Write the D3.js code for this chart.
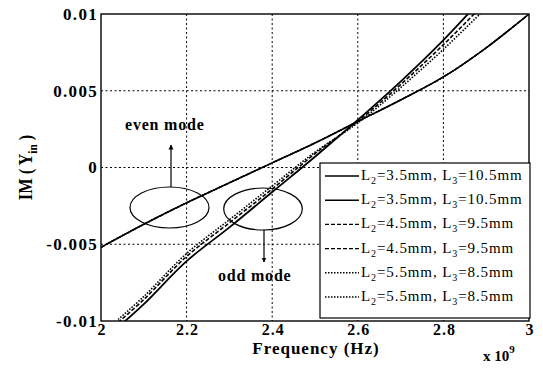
<!DOCTYPE html>
<html>
<head>
<meta charset="utf-8">
<script src="https://cdn.jsdelivr.net/npm/d3@7"></script>
<style>
  html, body { margin: 0; padding: 0; background: #fff; }
  svg { display: block; }
  text { font-family: "Liberation Serif", "Times New Roman", serif; fill: #000; }
</style>
</head>
<body>
<svg id="chart" width="543" height="368"></svg>
<script>
// Frequency samples (GHz) and imaginary input admittance for each case
const freqEven = [2.0, 2.1, 2.2, 2.3, 2.4, 2.5, 2.6, 2.7, 2.8, 2.9, 3.0];
const even35 = [-0.0052, -0.0037, -0.0023, -0.0010, 0.0003, 0.0016, 0.0030, 0.0044, 0.0059, 0.0078, 0.0100];
const even45 = [-0.0052, -0.0037, -0.0023, -0.0010, 0.0003, 0.0016, 0.0030, 0.0044, 0.0059, 0.0078, 0.0100];
const even55 = [-0.0052, -0.0037, -0.0023, -0.0010, 0.0003, 0.0016, 0.0030, 0.0044, 0.0059, 0.0078, 0.0100];

const freqOdd = [2.04, 2.1, 2.2, 2.3, 2.4, 2.5, 2.6, 2.7, 2.8, 2.9];
const odd35 = [-0.0104, -0.0089, -0.0061, -0.0039, -0.0016, 0.0007, 0.0031, 0.0056, 0.0083, 0.0113];
const odd45 = [-0.0101, -0.0086, -0.0058, -0.0036, -0.0014, 0.0009, 0.0030, 0.0054, 0.0080, 0.0108];
const odd55 = [-0.0099, -0.0084, -0.0056, -0.0034, -0.0012, 0.0010, 0.0029, 0.0052, 0.0077, 0.0104];

const xTicks = [2, 2.2, 2.4, 2.6, 2.8, 3];
const xTickLabels = ["2", "2.2", "2.4", "2.6", "2.8", "3"];
const yTicks = [-0.01, -0.005, 0, 0.005, 0.01];
const yTickLabels = ["-0.01", "-0.005", "0", "0.005", "0.01"];

const legendL2 = ["3.5", "3.5", "4.5", "4.5", "5.5", "5.5"];
const legendL3 = ["10.5", "10.5", "9.5", "9.5", "8.5", "8.5"];
const legendDash = ["none", "none", "4,2", "4,2", "1.5,1.5", "1.5,1.5"];
const legendWidth = [1.6, 1.6, 1.4, 1.4, 1.4, 1.4];

const svg = d3.select("#chart");
const plotLeft = 101, plotRight = 529, plotTop = 14, plotBottom = 321;

const x = d3.scaleLinear().domain([2, 3]).range([plotLeft, plotRight]);
const y = d3.scaleLinear().domain([-0.01, 0.01]).range([plotBottom, plotTop]);

// dotted grid
const grid = svg.append("g").attr("stroke", "#000").attr("stroke-width", 1)
  .attr("stroke-dasharray", "2,2.5");
grid.selectAll("line.gx").data(xTicks.slice(1, -1)).join("line").attr("class", "gx")
  .attr("x1", d => x(d)).attr("x2", d => x(d)).attr("y1", plotTop).attr("y2", plotBottom);
grid.selectAll("line.gy").data(yTicks.slice(1, -1)).join("line").attr("class", "gy")
  .attr("y1", d => y(d)).attr("y2", d => y(d)).attr("x1", plotLeft).attr("x2", plotRight);

svg.append("clipPath").attr("id", "plotClip").append("rect")
  .attr("x", plotLeft).attr("y", plotTop)
  .attr("width", plotRight - plotLeft).attr("height", plotBottom - plotTop);

const line = d3.line().x(d => x(d[0])).y(d => y(d[1])).curve(d3.curveCatmullRom);
const curves = [
  { f: freqEven, v: even55, dash: "1.5,1.5", w: 1.4 },
  { f: freqEven, v: even45, dash: "4,2", w: 1.4 },
  { f: freqEven, v: even35, dash: "none", w: 1.6 },
  { f: freqOdd, v: odd55, dash: "1.5,1.5", w: 1.6 },
  { f: freqOdd, v: odd45, dash: "4,2", w: 1.6 },
  { f: freqOdd, v: odd35, dash: "none", w: 1.8 }
];
svg.append("g").attr("clip-path", "url(#plotClip)")
  .selectAll("path").data(curves).join("path")
  .attr("d", c => line(c.f.map((f, i) => [f, c.v[i]])))
  .attr("fill", "none").attr("stroke", "#000")
  .attr("stroke-width", c => c.w)
  .attr("stroke-dasharray", c => c.dash);

// axes frame
svg.append("rect").attr("x", plotLeft).attr("y", plotTop)
  .attr("width", plotRight - plotLeft).attr("height", plotBottom - plotTop)
  .attr("fill", "none").attr("stroke", "#000").attr("stroke-width", 1.4);

const xAxis = d3.axisBottom(x).tickValues(xTicks).tickSize(0).tickPadding(3)
  .tickFormat((d, i) => xTickLabels[i]);
const gx = svg.append("g").attr("transform", `translate(0,${plotBottom})`).call(xAxis);
gx.select(".domain").remove();
gx.selectAll("text").attr("font-size", 16).attr("font-weight", "bold")
  .attr("font-family", "Liberation Serif, serif").attr("dy", "0.69em")
  .attr("letter-spacing", 1).attr("dx", 0.5);

const yAxis = d3.axisLeft(y).tickValues(yTicks).tickSize(0).tickPadding(3)
  .tickFormat((d, i) => yTickLabels[i]);
const gy = svg.append("g").attr("transform", `translate(${plotLeft},0)`).call(yAxis);
gy.select(".domain").remove();
gy.selectAll("text").attr("font-size", 17).attr("font-weight", "bold")
  .attr("font-family", "Liberation Serif, serif").attr("letter-spacing", 1.3);

// axis titles
svg.append("text").attr("x", 316).attr("y", 354).attr("text-anchor", "middle")
  .attr("font-size", 17).attr("font-weight", "bold").attr("letter-spacing", 1)
  .text("Frequency (Hz)");
const ex = svg.append("text").attr("x", 483).attr("y", 361)
  .attr("font-size", 15).attr("font-weight", "bold");
ex.append("tspan").text("x 10");
ex.append("tspan").attr("dy", -8).attr("font-size", 11).text("9");

const yl = svg.append("text")
  .attr("transform", `translate(32,${(plotTop + plotBottom) / 2}) rotate(-90) scale(0.86,1)`)
  .attr("text-anchor", "middle").attr("font-size", 19).attr("font-weight", "bold");
yl.append("tspan").text("IM ( Y");
yl.append("tspan").attr("dy", 5).attr("font-size", 13).text("in");
yl.append("tspan").attr("dy", -5).text(" )");

// mode annotations
const marker = svg.append("defs").append("marker").attr("id", "arrow")
  .attr("viewBox", "0 0 10 10").attr("refX", 9).attr("refY", 5)
  .attr("markerWidth", 5).attr("markerHeight", 6).attr("orient", "auto")
  .attr("markerUnits", "userSpaceOnUse");
marker.append("path").attr("d", "M0,0 L10,5 L0,10 Z").attr("fill", "#000");

svg.append("ellipse").attr("cx", 169.5).attr("cy", 207.5).attr("rx", 39.5).attr("ry", 20.5)
  .attr("fill", "none").attr("stroke", "#000").attr("stroke-width", 1.2);
svg.append("ellipse").attr("cx", 263).attr("cy", 209).attr("rx", 39.3).attr("ry", 21)
  .attr("fill", "none").attr("stroke", "#000").attr("stroke-width", 1.2);
svg.append("line").attr("x1", 171).attr("y1", 187).attr("x2", 171).attr("y2", 145)
  .attr("stroke", "#000").attr("stroke-width", 1.2).attr("marker-end", "url(#arrow)");
svg.append("line").attr("x1", 264).attr("y1", 230).attr("x2", 264).attr("y2", 262)
  .attr("stroke", "#000").attr("stroke-width", 1.2).attr("marker-end", "url(#arrow)");
svg.append("text").attr("x", 125).attr("y", 130).attr("font-size", 16)
  .attr("font-weight", "bold").attr("letter-spacing", 0.8).text("even mode");
svg.append("text").attr("x", 218).attr("y", 281).attr("font-size", 16)
  .attr("font-weight", "bold").attr("letter-spacing", 0.8).text("odd mode");

// legend
const lg = svg.append("g");
lg.append("rect").attr("x", 320).attr("y", 163).attr("width", 210).attr("height", 155)
  .attr("fill", "#fff").attr("stroke", "#000").attr("stroke-width", 1.2);
const rows = lg.selectAll("g.row").data(legendL2).join("g").attr("class", "row")
  .attr("transform", (d, i) => `translate(0,${176 + i * 24.2})`);
rows.append("line").attr("x1", 325).attr("x2", 359).attr("y1", 0).attr("y2", 0)
  .attr("stroke", "#000")
  .attr("stroke-width", (d, i) => legendWidth[i])
  .attr("stroke-dasharray", (d, i) => legendDash[i]);
const lt = rows.append("text").attr("x", 361).attr("y", 4).attr("font-size", 15)
  .attr("letter-spacing", 0.9);
lt.append("tspan").text("L");
lt.append("tspan").attr("dy", 4).attr("font-size", 10).text("2");
lt.append("tspan").attr("dy", -4).text(d => `=${d}mm, L`);
lt.append("tspan").attr("dy", 4).attr("font-size", 10).text("3");
lt.append("tspan").attr("dy", -4).text((d, i) => `=${legendL3[i]}mm`);
</script>
</body>
</html>
